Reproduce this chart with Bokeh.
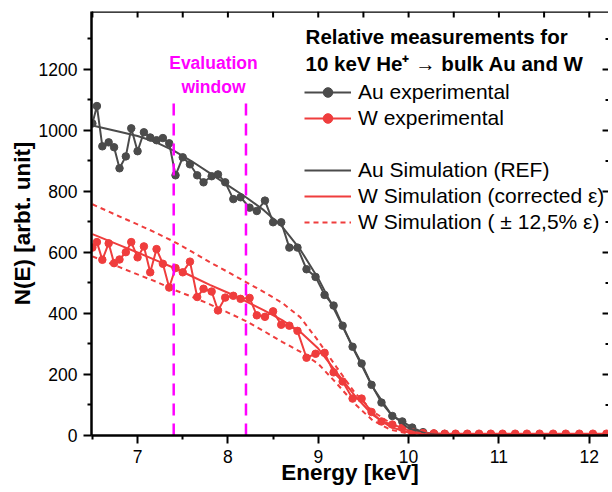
from bokeh.plotting import figure
from bokeh.models import (Range1d, Legend, LegendItem, Label, Span,
                          ColumnDataSource, FixedTicker)
from bokeh.embed import file_html
from bokeh.resources import INLINE

# ---------------- data ----------------
energy = [6.50, 6.55, 6.61, 6.68, 6.74, 6.80, 6.87, 6.93, 7.00, 7.07,
          7.14, 7.21, 7.28, 7.35, 7.42, 7.50, 7.58, 7.66, 7.73, 7.82,
          7.89, 7.97, 8.06, 8.14, 8.24, 8.32, 8.41, 8.50, 8.59, 8.68,
          8.77, 8.87, 8.97, 9.07, 9.17, 9.27, 9.38, 9.48, 9.59, 9.70,
          9.82, 9.93, 10.04, 10.16, 10.28, 10.40, 10.52, 10.65, 10.78, 10.91,
          11.04, 11.18, 11.31, 11.45, 11.60, 11.74, 11.89, 12.04, 12.19]

au_exp = [1023, 1080, 948, 961, 945, 876, 915, 1007, 932, 994,
          977, 968, 975, 958, 853, 912, 889, 853, 830, 850,
          856, 830, 775, 781, 747, 736, 770, 699, 699, 616,
          616, 545, 520, 461, 426, 360, 291, 236, 166, 108,
          64, 46, 26, 11, 6, 5, 4, 4, 3, 3,
          3, 2, 2, 2, 2, 2, 2, 2, 2]

w_exp = [616, 634, 576, 630, 565, 577, 601, 634, 584, 620,
         535, 611, 563, 485, 549, 535, 570, 454, 481, 472,
         410, 452, 458, 448, 451, 394, 389, 407, 363, 360,
         343, 255, 268, 271, 207, 177, 121, 121, 77, 46,
         36, 25, 11, 8, 7, 6, 6, 6, 6, 6,
         6, 6, 6, 6, 6, 6, 6, 6, 6]

sim_energy = [6.5, 6.8, 7.0, 7.2, 7.4, 7.6, 7.8, 8.0, 8.2, 8.4, 8.6, 8.8,
              9.0, 9.2, 9.4, 9.6, 9.8, 10.0, 10.2, 10.4, 10.6, 11.0, 12.25]
au_sim = [1016, 996, 982, 962, 934, 899, 860, 820, 781, 738, 685, 610,
          515, 400, 278, 160, 72, 24, 6, 1, 0, 0, 0]
w_sim = [660, 624, 600, 575, 550, 522, 494, 468, 440, 410, 378, 340,
         285, 208, 132, 68, 28, 10, 3, 1, 0, 0, 0]
w_sim_plus = [758, 718, 692, 665, 636, 603, 568, 536, 503, 470, 435, 388,
              310, 225, 142, 80, 40, 15, 4, 1, 0, 0, 0]
w_sim_minus = [587, 552, 528, 505, 478, 455, 430, 403, 375, 342, 307, 275,
               235, 172, 105, 50, 19, 6, 2, 0, 0, 0, 0]

window_bounds = [7.4, 8.2]
window_top = 1100
x_ticks = [7, 8, 9, 10, 11, 12]
x_minor = [6.5, 7.5, 8.5, 9.5, 10.5, 11.5]
y_ticks = [0, 200, 400, 600, 800, 1000, 1200]
y_minor = [100, 300, 500, 700, 900, 1100, 1300]

X_START, X_END = 6.49, 12.213
Y_START, Y_END = 0, 1390

GRAY = "#4b4b4b"
RED = "#ef3d3d"
MAGENTA = "#ff00ff"
FONT = "Liberation Sans"

# ---------------- figure ----------------
p = figure(width=608, height=488, output_backend="svg", toolbar_location=None,
           x_range=Range1d(X_START, X_END), y_range=Range1d(Y_START, Y_END),
           min_border_left=91, min_border_right=0, min_border_top=11,
           min_border_bottom=53, background_fill_color="white",
           border_fill_color="white")
p.outline_line_color = None
p.xgrid.visible = False
p.ygrid.visible = False

exp_src = ColumnDataSource(dict(e=energy, au=au_exp, w=w_exp))
sim_src = ColumnDataSource(dict(e=sim_energy, au=au_sim, w=w_sim,
                                wp=w_sim_plus, wm=w_sim_minus))

au_l = p.line("e", "au", source=exp_src, line_color=GRAY, line_width=2)
au_s = p.scatter("e", "au", source=exp_src, size=7.5, fill_color=GRAY,
                 line_color=GRAY)
w_l = p.line("e", "w", source=exp_src, line_color=RED, line_width=2)
w_s = p.scatter("e", "w", source=exp_src, size=7.5, fill_color=RED,
                line_color=RED)

au_sim_l = p.line("e", "au", source=sim_src, line_color=GRAY, line_width=2)
w_sim_l = p.line("e", "w", source=sim_src, line_color=RED, line_width=2)
w_plus_l = p.line("e", "wp", source=sim_src, line_color=RED, line_width=2,
                  line_dash="5 4")
w_minus_l = p.line("e", "wm", source=sim_src, line_color=RED, line_width=2,
                   line_dash="5 4")

blank = p.line([], [], line_alpha=0)

# evaluation window
p.segment(x0=window_bounds, y0=[0, 0], x1=window_bounds,
          y1=[window_top, window_top], line_color=MAGENTA, line_width=2.5,
          line_dash="12 8")
p.add_layout(Label(x=7.84, y=1220, text="Evaluation", text_align="center",
                   text_baseline="middle", text_color=MAGENTA,
                   text_font=FONT, text_font_style="bold",
                   text_font_size="17.5px"))
p.add_layout(Label(x=7.84, y=1143, text="window", text_align="center",
                   text_baseline="middle", text_color=MAGENTA,
                   text_font=FONT, text_font_style="bold",
                   text_font_size="17.5px"))

# legend title
p.add_layout(Label(x=8.86, y=1309, text="Relative measurements for",
                   text_baseline="middle", text_color="black",
                   text_font=FONT, text_font_style="bold",
                   text_font_size="20.5px"))
p.add_layout(Label(x=8.86, y=1219, text="10 keV He\u207a \u2192 bulk Au and W",
                   text_baseline="middle", text_color="black",
                   text_font=FONT, text_font_style="bold",
                   text_font_size="20.5px"))

legend = Legend(items=[
    LegendItem(label="Au experimental", renderers=[au_l, au_s]),
    LegendItem(label="W experimental", renderers=[w_l, w_s]),
    LegendItem(label=" ", renderers=[blank]),
    LegendItem(label="Au Simulation (REF)", renderers=[au_sim_l]),
    LegendItem(label="W Simulation (corrected \u03b5)", renderers=[w_sim_l]),
    LegendItem(label="W Simulation ( \u00b1 12,5% \u03b5)", renderers=[w_plus_l]),
], location=(213, 201))
legend.glyph_width = 47
legend.glyph_height = 24
legend.label_height = 24
legend.label_standoff = 7
legend.spacing = 2
legend.padding = 0
legend.margin = 0
legend.border_line_alpha = 0
legend.background_fill_alpha = 0
legend.label_text_font = FONT
legend.label_text_font_size = "21px"
legend.label_text_color = "black"
p.add_layout(legend)

# axes
xax = p.xaxis[0]
xax.ticker = FixedTicker(ticks=x_ticks, minor_ticks=x_minor)
xax.axis_label = "Energy [keV]"
yax = p.yaxis[0]
yax.ticker = FixedTicker(ticks=y_ticks, minor_ticks=y_minor)
yax.axis_label = "N(E) [arbt. unit]"
for ax in (xax, yax):
    ax.axis_line_width = 2.5
    ax.axis_line_color = "black"
    ax.major_tick_line_width = 2
    ax.minor_tick_line_width = 2
    ax.major_tick_line_color = "black"
    ax.minor_tick_line_color = "black"
    ax.major_tick_out = 8
    ax.major_tick_in = 0
    ax.minor_tick_out = 4
    ax.minor_tick_in = 0
    ax.major_label_text_font = FONT
    ax.major_label_text_font_size = "17.5px"
    ax.major_label_text_color = "black"
    ax.axis_label_text_font = FONT
    ax.axis_label_text_font_style = "bold"
    ax.axis_label_text_font_size = "22.5px"
    ax.axis_label_text_color = "black"
xax.major_label_standoff = 6
xax.axis_label_standoff = -6
xax.axis_label_text_line_height = 0.8
yax.major_label_standoff = 6
yax.axis_label_standoff = 1

# mirrored frame: top line with inward ticks, inward ticks on the right
p.add_layout(Span(location=Y_END, dimension="width", line_color="black",
                  line_width=2.5))
top_ticks = x_ticks + x_minor
tick_len_y = 20      # ~6 px in data units
tick_len_x = 0.066   # ~6 px in data units
p.segment(x0=top_ticks, y0=[Y_END] * len(top_ticks), x1=top_ticks,
          y1=[Y_END - tick_len_y] * len(top_ticks), line_color="black",
          line_width=2)
p.segment(x0=[X_END] * len(y_ticks), y0=y_ticks,
          x1=[X_END - tick_len_x] * len(y_ticks), y1=y_ticks,
          line_color="black", line_width=2)
p.segment(x0=[X_END] * len(y_minor), y0=y_minor,
          x1=[X_END - tick_len_x / 2] * len(y_minor), y1=y_minor,
          line_color="black", line_width=2)

open("out.html", "w").write(file_html(p, INLINE))
